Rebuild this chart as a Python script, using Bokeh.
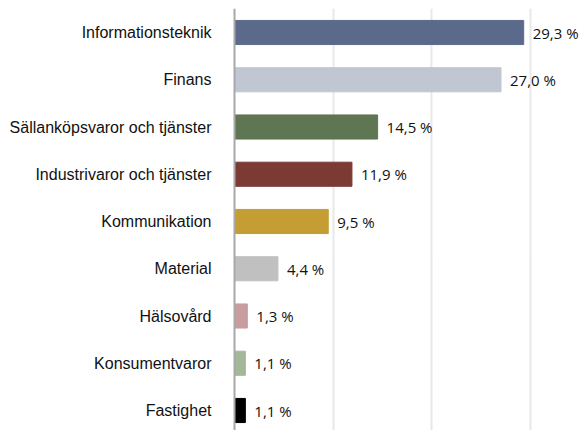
from bokeh.plotting import figure
from bokeh.models import Range1d, Span, Grid, FixedTicker, ColumnDataSource
from bokeh.core.properties import value
from bokeh.embed import file_html
from bokeh.resources import INLINE

categories = ["Informationsteknik", "Finans", "Sällanköpsvaror och tjänster",
              "Industrivaror och tjänster", "Kommunikation", "Material",
              "Hälsovård", "Konsumentvaror", "Fastighet"]
values = [29.3, 27.0, 14.5, 11.9, 9.5, 4.4, 1.3, 1.1, 1.1]
value_labels = ["29,3 %", "27,0 %", "14,5 %", "11,9 %", "9,5 %", "4,4 %", "1,3 %", "1,1 %", "1,1 %"]
colors = ["#5b6a8b", "#c0c6d2", "#5e7651", "#7b3b34", "#c59d35",
          "#c0c0c0", "#c89d9f", "#a3b898", "#000000"]
grid_ticks = [10, 20, 30]

n = len(categories)
pos = [n - 1 - i for i in range(n)]
src = ColumnDataSource(dict(y=pos, v=values, lab=value_labels, cat=categories,
                            zero=[0] * n, c=colors))

W, H = 580, 430
top = 8
px_per_unit = 9.87
axis_px = 234
step = 47.25
p = figure(width=W, height=H, output_backend="svg", toolbar_location=None,
           x_range=Range1d(-axis_px / px_per_unit, (W - axis_px) / px_per_unit),
           y_range=Range1d(-20 / step, (n - 1) + 24 / step),
           x_axis_location=None, y_axis_location=None,
           min_border=0, min_border_top=top, outline_line_color=None)
p.xgrid.visible = False
p.ygrid.visible = False
p.add_layout(Grid(dimension=0, ticker=FixedTicker(ticks=grid_ticks),
                  grid_line_color="#e8e8e8", grid_line_width=2))

p.hbar(y="y", left="zero", right="v", height=0.51, color="c", source=src)

p.add_layout(Span(location=0, dimension="height", line_color="#a8a8a8", line_width=2))

p.text(x="v", y="y", text="lab", source=src, x_offset=9,
       text_align="left", text_baseline="middle",
       text_font=value("Open Sans"), text_font_size="15px", text_color="#111111")
p.text(x="zero", y="y", text="cat", source=src, x_offset=-23,
       text_align="right", text_baseline="middle",
       text_font=value("Liberation Sans"), text_font_size="16px", text_color="#111111")

open("out.html", "w").write(file_html(p, INLINE))
